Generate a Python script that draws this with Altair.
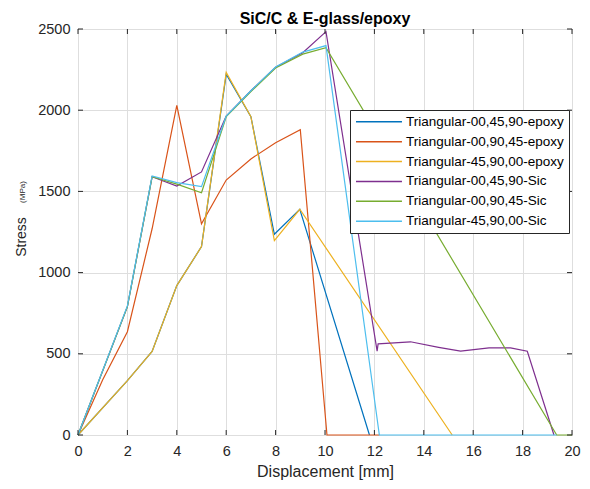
import altair as alt
import pandas as pd

FONT = "Liberation Sans"

series_names = [
    "Triangular-00,45,90-epoxy",
    "Triangular-00,90,45-epoxy",
    "Triangular-45,90,00-epoxy",
    "Triangular-00,45,90-Sic",
    "Triangular-00,90,45-Sic",
    "Triangular-45,90,00-Sic",
]
colors = ["#0072BD", "#D95319", "#EDB120", "#7E2F8E", "#77AC30", "#4DBEEE"]

# Displacement [mm] / Stress [MPa] per series
x_00_45_90_epoxy = [0, 2, 3, 4, 5, 6, 7, 7.95, 8.98, 11.8]
y_00_45_90_epoxy = [0, 335, 515, 920, 1160, 2221, 1960, 1236, 1390, 0]

x_00_90_45_epoxy = [0, 1, 2, 3, 4, 5, 6, 7, 8, 9, 10.08, 12.2]
y_00_90_45_epoxy = [0, 340, 636, 1270, 2030, 1300, 1570, 1700, 1800, 1880, 0, 0]

x_45_90_00_epoxy = [0, 2, 3, 4, 5, 6, 7, 7.95, 8.98, 15.15]
y_45_90_00_epoxy = [0, 335, 515, 920, 1160, 2233, 1960, 1197, 1390, 0]

x_00_45_90_sic = [0, 2, 3, 4, 5, 6, 7, 8, 9.1, 10.04, 12.11, 12.15, 13.46, 14.6,
                  15.49, 16.64, 17.51, 18.19, 19.27]
y_00_45_90_sic = [0, 790, 1590, 1533, 1620, 1964, 2120, 2264, 2354, 2484, 516, 561,
                  574, 540, 516, 537, 537, 516, 0]

x_00_90_45_sic = [0, 2, 3, 4, 5, 6, 7, 8, 9.1, 10.04, 19.38, 20]
y_00_90_45_sic = [0, 790, 1590, 1545, 1492, 1960, 2115, 2260, 2345, 2385, 0, 0]

x_45_90_00_sic = [0, 2, 3, 4, 5, 6, 7, 8, 9.1, 10.04, 12.2, 19.38]
y_45_90_00_sic = [0, 795, 1595, 1554, 1529, 1964, 2120, 2266, 2358, 2398, 0, 0]

xs = [x_00_45_90_epoxy, x_00_90_45_epoxy, x_45_90_00_epoxy,
      x_00_45_90_sic, x_00_90_45_sic, x_45_90_00_sic]
ys = [y_00_45_90_epoxy, y_00_90_45_epoxy, y_45_90_00_epoxy,
      y_00_45_90_sic, y_00_90_45_sic, y_45_90_00_sic]

x_ticks = [0, 2, 4, 6, 8, 10, 12, 14, 16, 18, 20]
y_ticks = [0, 500, 1000, 1500, 2000, 2500]

rows = []
for name, xv, yv in zip(series_names, xs, ys):
    for i, (a, b) in enumerate(zip(xv, yv)):
        rows.append({"series": name, "x": a, "y": b, "i": i})
df = pd.DataFrame(rows)

W, H = 494, 406
TXT = "#262626"

xscale = alt.Scale(domain=[0, 20], nice=False, zero=False)
yscale = alt.Scale(domain=[0, 2500], nice=False, zero=False)

lines = alt.Chart(df).mark_line(strokeWidth=1.2).encode(
    x=alt.X("x:Q", scale=xscale,
            axis=alt.Axis(values=x_ticks, title="Displacement [mm]", grid=True,
                          ticks=False, domain=False, labelPadding=9, labelFlush=False,
                          format="d", labelFontSize=14.5, labelFont=FONT, labelColor=TXT,
                          titleFont=FONT, titleFontSize=16, titleFontWeight="normal",
                          titleColor=TXT, titlePadding=6, gridColor="#dedede")),
    y=alt.Y("y:Q", scale=yscale,
            axis=alt.Axis(values=y_ticks, title=None, grid=True, ticks=False,
                          domain=False, labelPadding=8, labelFlush=False, format="d",
                          labelFontSize=14.5, labelFont=FONT, labelColor=TXT,
                          gridColor="#dedede")),
    color=alt.Color("series:N", scale=alt.Scale(domain=series_names, range=colors),
                    legend=alt.Legend(title=None, orient="none", legendX=272, legendY=81,
                                      direction="vertical", symbolType="M-1,0H7",
                                      symbolSize=132, symbolStrokeWidth=1.5,
                                      labelFont=FONT, labelFontSize=13.5,
                                      labelColor="#000", labelOffset=37.5,
                                      labelLimit=300, rowPadding=4.9, padding=5,
                                      strokeColor=TXT, fillColor="white")),
    order="i:Q",
)

xt = pd.DataFrame({"x": x_ticks})
yt = pd.DataFrame({"y": y_ticks})
tick_bottom = alt.Chart(xt).mark_rule(color=TXT, strokeWidth=1).encode(
    x=alt.X("x:Q", scale=xscale), y=alt.value(H), y2=alt.value(H - 5))
tick_top = alt.Chart(xt).mark_rule(color=TXT, strokeWidth=1).encode(
    x=alt.X("x:Q", scale=xscale), y=alt.value(0), y2=alt.value(5))
tick_left = alt.Chart(yt).mark_rule(color=TXT, strokeWidth=1).encode(
    y=alt.Y("y:Q", scale=yscale), x=alt.value(0), x2=alt.value(5))
tick_right = alt.Chart(yt).mark_rule(color=TXT, strokeWidth=1).encode(
    y=alt.Y("y:Q", scale=yscale), x=alt.value(W), x2=alt.value(W - 5))

one = pd.DataFrame({"k": [0]})
stress_lbl = alt.Chart(one).mark_text(text="Stress", angle=270, fontSize=14,
                                      font=FONT, color=TXT, align="center",
                                      baseline="middle").encode(
    x=alt.value(-56), y=alt.value(208))
mpa_lbl = alt.Chart(one).mark_text(text="(MPa)", angle=270, fontSize=8,
                                   font=FONT, color=TXT, align="center",
                                   baseline="middle").encode(
    x=alt.value(-55), y=alt.value(163))

chart = alt.layer(lines, tick_bottom, tick_top, tick_left, tick_right,
                  stress_lbl, mpa_lbl).properties(
    width=W, height=H,
    autosize=alt.AutoSizeParams(type="none"),
    padding={"left": 70, "top": 21, "right": 10, "bottom": 46},
    title=alt.Title("SiC/C & E-glass/epoxy", fontSize=16, fontWeight="bold",
                    font=FONT, color="#000", anchor="middle", offset=-6),
).configure_view(stroke=TXT, strokeWidth=1)

chart.save("out.html", embed_options={"renderer": "svg", "actions": False})
